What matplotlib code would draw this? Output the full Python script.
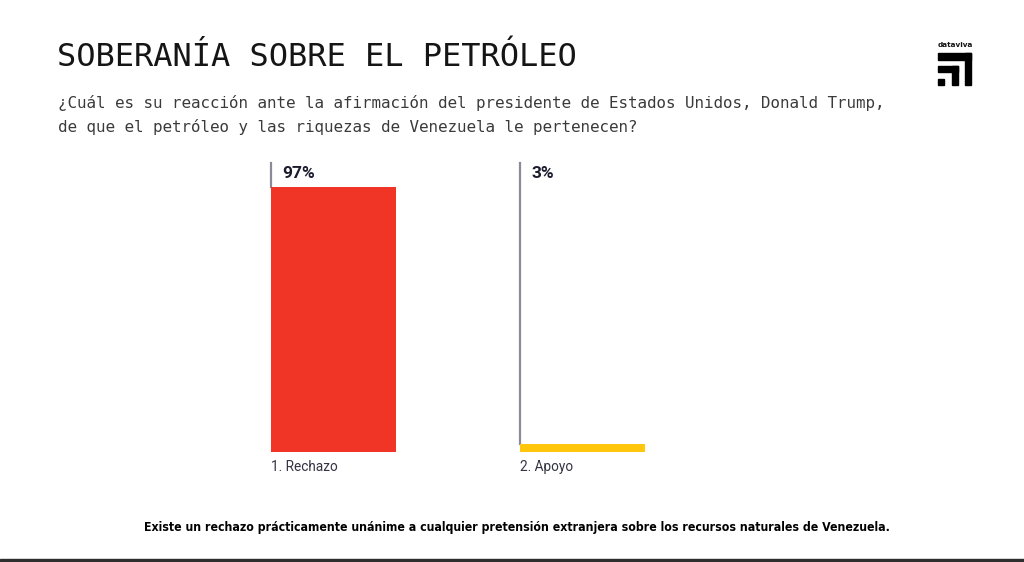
import matplotlib.pyplot as plt
from matplotlib.patches import Rectangle

# data
categories = ['1. Rechazo', '2. Apoyo']
values = [97, 3]
value_labels = ['97%', '3%']
bar_colors = ['#f03526', '#ffc60b']

title = 'SOBERANÍA SOBRE EL PETRÓLEO'
subtitle = ('¿Cuál es su reacción ante la afirmación del presidente de Estados Unidos, Donald Trump,\n'
            'de que el petróleo y las riquezas de Venezuela le pertenecen?')
footer = ('Existe un rechazo prácticamente unánime a cualquier pretensión '
          'extranjera sobre los recursos naturales de Venezuela.')

W, H = 1024, 562
fig = plt.figure(figsize=(W / 100, H / 100), dpi=100)
fig.patch.set_facecolor('white')


def px(x, y):
    # pixel coords (top-left origin) -> figure fraction
    return x / W, 1 - y / H


tx, ty = px(57, 57)
fig.text(tx, ty, title, family='DejaVu Sans Mono', fontsize=23,
         color='#151515', va='center', ha='left')

sx, sy = px(58, 115)
fig.text(sx, sy, subtitle, family='DejaVu Sans Mono', fontsize=11.4,
         color='#3a3a3a', va='center', ha='left', linespacing=1.55)

# axes: x=0 at px 271, 249 px per unit; y=0 at px 452, 2.73 px per %
ax_left, ax_right, ax_top, ax_bottom = 200, 720, 150, 452
ax = fig.add_axes([ax_left / W, (H - ax_bottom) / H,
                   (ax_right - ax_left) / W, (ax_bottom - ax_top) / H])
ax.set_xlim((ax_left - 271) / 249, (ax_right - 271) / 249)
ax.set_ylim(0, (ax_bottom - ax_top) / 2.73)
ax.axis('off')

xs = list(range(len(categories)))
ax.bar(xs, values, width=125 / 249, align='edge', color=bar_colors, zorder=2)
for x, v, lab, cat in zip(xs, values, value_labels, categories):
    ax.plot([x, x], [v, 106], color='#8a8a98', lw=1.6, zorder=1)
    ax.text(x + 0.045, 102, lab, fontsize=12.5, fontweight='bold',
            color='#1c1c2e', va='center', ha='left', family='Roboto')
    ax.text(x, -5.5, cat, fontsize=9.8, color='#333344', va='center',
            ha='left', family='Roboto')

fx, fy = px(517, 528)
fig.text(fx, fy, footer, family='DejaVu Sans', fontstretch='condensed',
         fontsize=8.8, fontweight='bold', color='#000000',
         va='center', ha='center')

# dataviva logo
lx, ly = px(938, 45)
fig.text(lx, ly, 'dataviva', fontsize=5.2, fontweight='bold', color='#111111',
         va='center', ha='left', family='DejaVu Sans')
logo = [(938, 53, 33, 7), (965, 53, 6, 32), (938, 66, 20, 6),
        (952, 66, 6, 19), (938, 79, 6, 6)]
for x0, y0, w, h in logo:
    fx0, fy0 = px(x0, y0 + h)
    fig.patches.append(Rectangle((fx0, fy0), w / W, h / H, color='#000000',
                                 transform=fig.transFigure, figure=fig))

# dark strip at the bottom edge
bx, by = px(0, 562)
fig.patches.append(Rectangle((bx, by), 1, 3.5 / H, color='#2e2e2e',
                             transform=fig.transFigure, figure=fig))

fig.savefig('out.png', dpi=100)
